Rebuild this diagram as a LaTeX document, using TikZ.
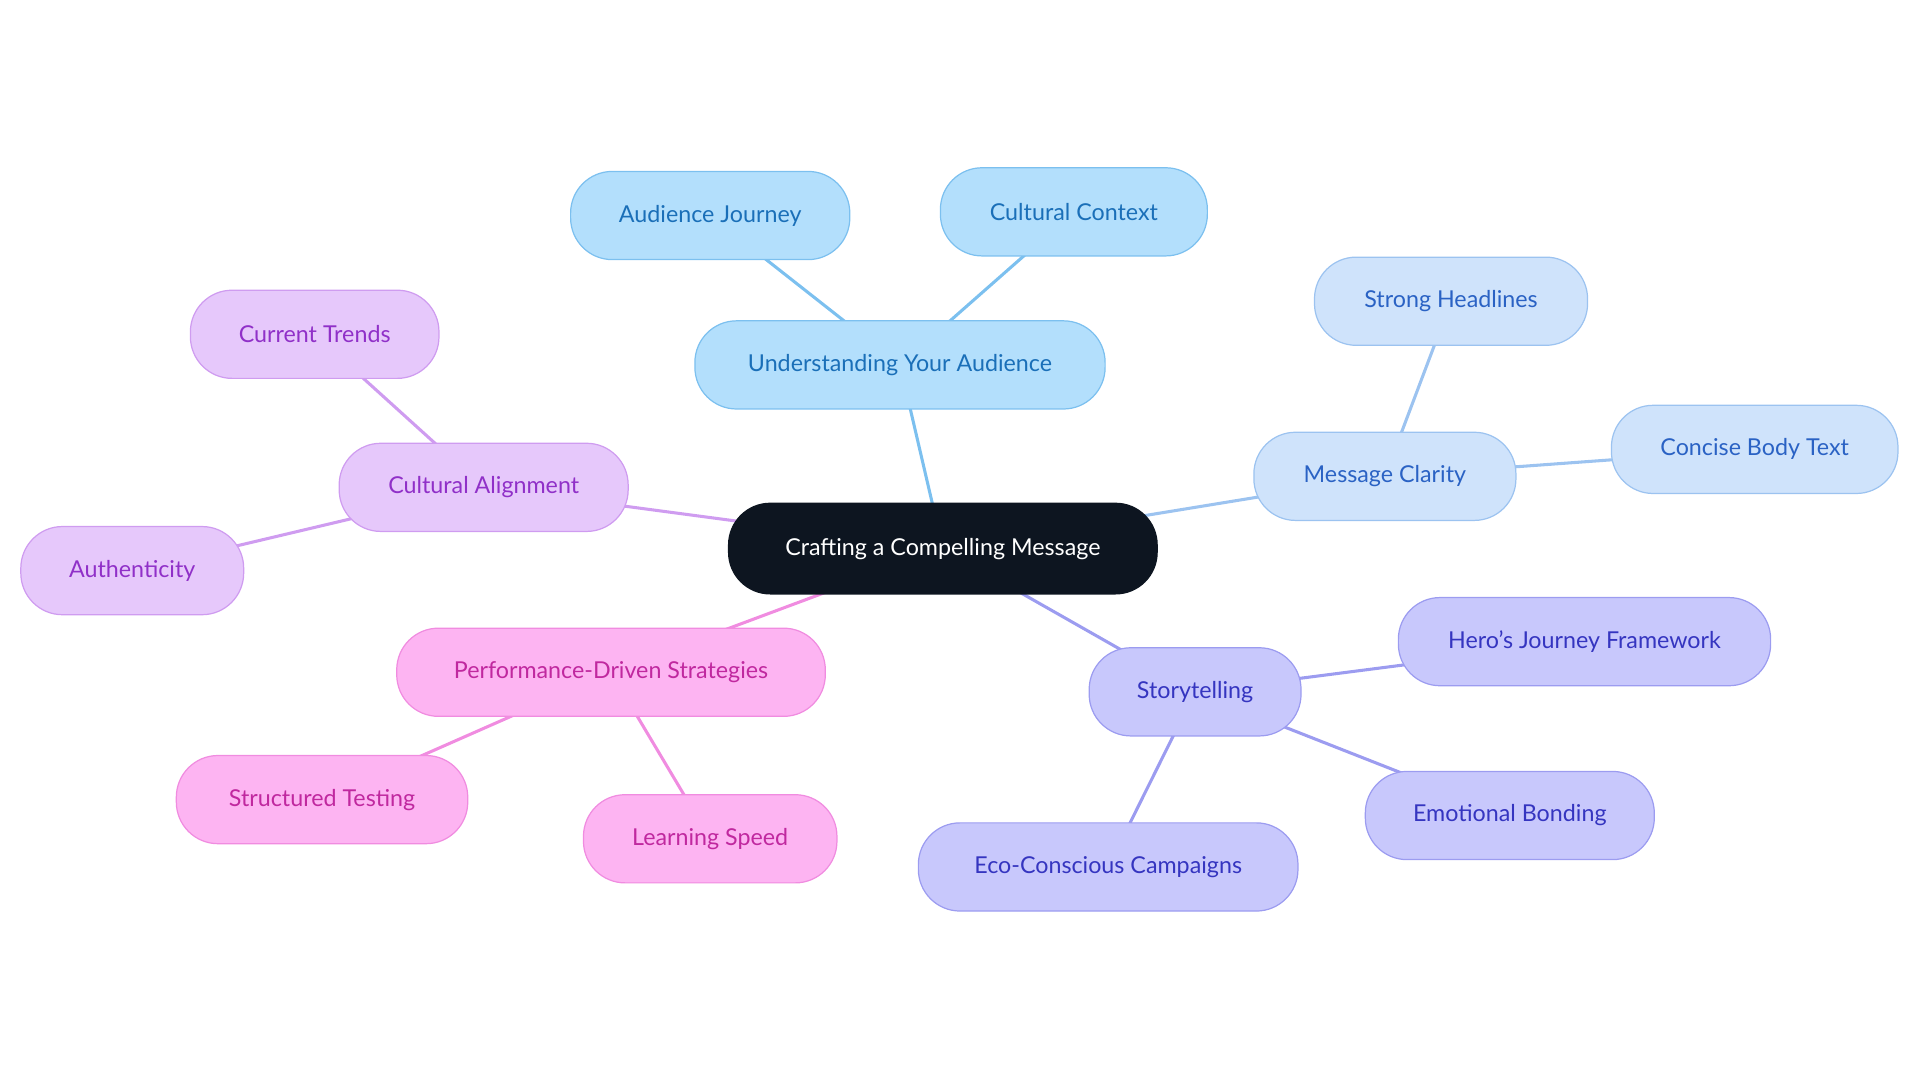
\documentclass[tikz,border=0pt]{standalone}
\usepackage{fontspec}
\setmainfont{Lato}
\usetikzlibrary{backgrounds}
\definecolor{cA}{HTML}{B3DFFC}\definecolor{sA}{HTML}{7CC0EF}\definecolor{tA}{HTML}{1A6FB8}
\definecolor{cB}{HTML}{CFE3FB}\definecolor{sB}{HTML}{9CC3F0}\definecolor{tB}{HTML}{2A62C4}
\definecolor{cC}{HTML}{C8C8FC}\definecolor{sC}{HTML}{9C9CF0}\definecolor{tC}{HTML}{3535C0}
\definecolor{cD}{HTML}{FDB4F2}\definecolor{sD}{HTML}{F08CE0}\definecolor{tD}{HTML}{C0289F}
\definecolor{cE}{HTML}{E6C8FB}\definecolor{sE}{HTML}{CF9CF0}\definecolor{tE}{HTML}{9030C8}
\definecolor{dark}{HTML}{0D1520}
\begin{document}
\begin{tikzpicture}[x=1pt,y=-1pt,
 nd/.style={rounded corners=34pt,minimum height=72pt,line width=1pt,font=\fontsize{19}{22}\selectfont,inner sep=0pt},
 A/.style={nd,fill=cA,draw=sA,text=tA},
 B/.style={nd,fill=cB,draw=sB,text=tB},
 C/.style={nd,fill=cC,draw=sC,text=tC},
 D/.style={nd,fill=cD,draw=sD,text=tD},
 E/.style={nd,fill=cE,draw=sE,text=tE},
 ln/.style={line width=2.5pt}]
\useasboundingbox (0,0) rectangle (1568,884);
\node[nd,fill=dark,draw=dark,text=white,minimum width=350pt,minimum height=74pt] (c) at (770,448) {Crafting a Compelling Message};
\node[A,minimum width=335pt] (u) at (735,298) {Understanding Your Audience};
\node[A,minimum width=228pt] (u1) at (580,176) {Audience Journey};
\node[A,minimum width=218pt] (u2) at (877,173) {Cultural Context};
\node[B,minimum width=214pt] (m) at (1131,389) {Message Clarity};
\node[B,minimum width=223pt] (m1) at (1185,246) {Strong Headlines};
\node[B,minimum width=234pt] (m2) at (1433,367) {Concise Body Text};
\node[C,minimum width=173pt] (s) at (976,565) {Storytelling};
\node[C,minimum width=304pt] (s1) at (1294,524) {Hero's Journey Framework};
\node[C,minimum width=236pt] (s2) at (1233,666) {Emotional Bonding};
\node[C,minimum width=310pt] (s3) at (905,708) {Eco-Conscious Campaigns};
\node[D,minimum width=350pt] (p) at (499,549) {Performance-Driven Strategies};
\node[D,minimum width=238pt] (p1) at (263,653) {Structured Testing};
\node[D,minimum width=207pt] (p2) at (580,685) {Learning Speed};
\node[E,minimum width=236pt] (a) at (395,398) {Cultural Alignment};
\node[E,minimum width=203pt] (a1) at (257,273) {Current Trends};
\node[E,minimum width=182pt] (a2) at (108,466) {Authenticity};
\begin{scope}[on background layer]
\draw[ln,sA] (c.center)--(u.center) (u.center)--(u1.center) (u.center)--(u2.center);
\draw[ln,sB] (c.center)--(m.center) (m.center)--(m1.center) (m.center)--(m2.center);
\draw[ln,sC] (c.center)--(s.center) (s.center)--(s1.center) (s.center)--(s2.center) (s.center)--(s3.center);
\draw[ln,sD] (c.center)--(p.center) (p.center)--(p1.center) (p.center)--(p2.center);
\draw[ln,sE] (c.center)--(a.center) (a.center)--(a1.center) (a.center)--(a2.center);
\end{scope}
\end{tikzpicture}
\end{document}
